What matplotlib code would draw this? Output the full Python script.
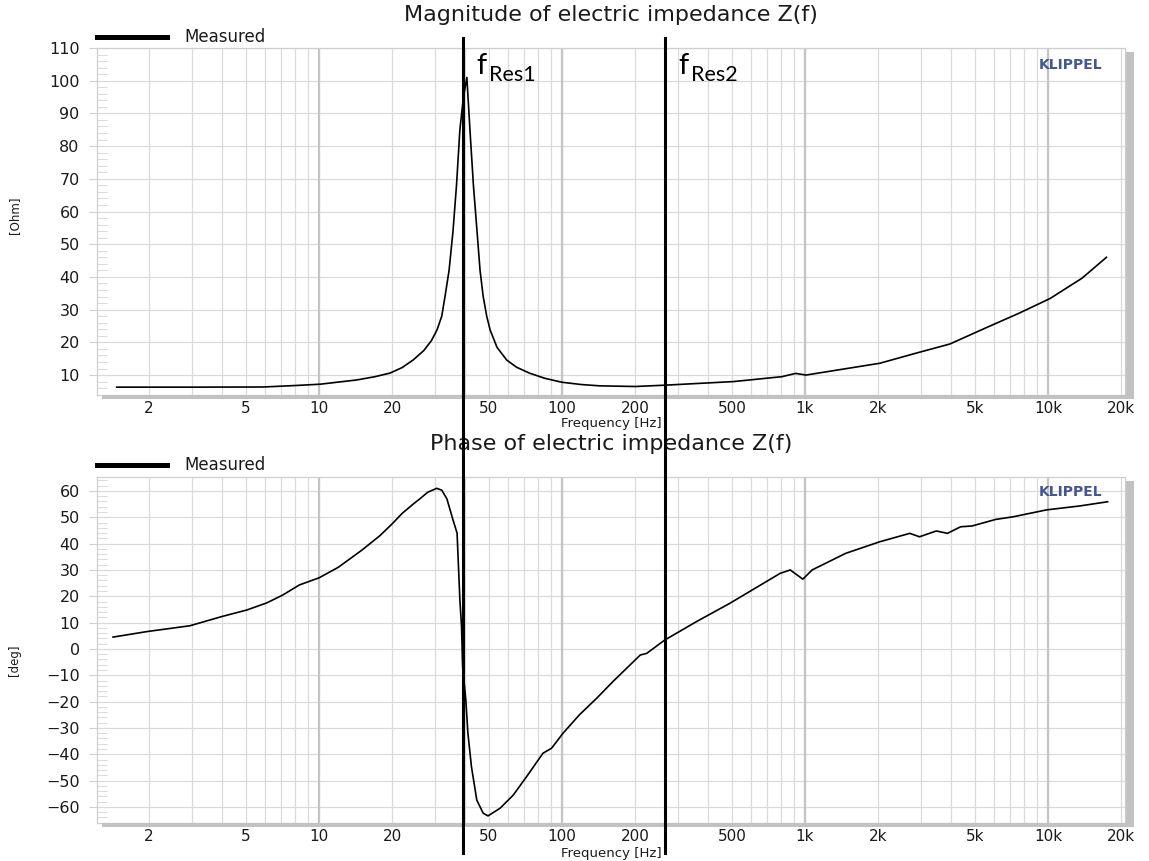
"""Electric impedance of a loudspeaker: magnitude and phase versus frequency.

Two stacked log-frequency panels in the style of a Klippel analyser report,
with the two resonance frequencies marked by vertical lines across both.
"""

import matplotlib.pyplot as plt
import numpy as np
from matplotlib import transforms
from matplotlib.lines import Line2D
from matplotlib.patches import Rectangle
from matplotlib.ticker import (FixedLocator, LogLocator, MultipleLocator,
                               NullFormatter)

# Magnitude |Z(f)| in Ohm
MAG_FREQ = [1.47, 3, 5.9, 8, 10.1, 14.3, 17, 19.6, 22, 24.4, 27, 29, 30.6,
            32, 33, 34.3, 35.6, 36.8, 38, 39.3, 40.6, 41.8, 43.2, 44.7, 46,
            47.4, 49, 50.6, 54, 59.2, 65, 73.4, 85, 100, 120, 143, 200, 265,
            507, 803, 915, 1010, 2030, 2900, 3950, 5500, 7600, 10200, 13800,
            17400]
MAG_OHM = [6.3, 6.3, 6.35, 6.8, 7.2, 8.5, 9.5, 10.6, 12.3, 14.6, 17.5, 20.5,
           23.8, 28, 34, 42, 54, 68, 85, 95, 101, 85, 68, 54, 42, 34, 28,
           23.8, 18.5, 14.6, 12.4, 10.6, 9.0, 7.8, 7.1, 6.7, 6.5, 6.9, 8.0,
           9.5, 10.5, 10.0, 13.6, 16.8, 19.5, 24.3, 28.9, 33.4, 39.6, 46]

# Phase of Z(f) in degrees
PHASE_FREQ = [1.42, 1.96, 2.94, 3.98, 5.05, 6.1, 7.1, 8.3, 10, 12, 15, 17.8,
              20, 22, 24.4, 26, 28, 30.5, 32, 33.6, 35.6, 37, 38, 38.6, 39,
              40.2, 41, 42.4, 44.6, 47.4, 49.6, 55.6, 63, 71.5, 83.5, 90.6,
              101, 118, 139, 162, 210, 223, 265, 358, 490, 790, 870, 980,
              1070, 1470, 2030, 2700, 2960, 3470, 3860, 4370, 4870, 6100,
              7200, 9850, 13500, 17600]
PHASE_DEG = [4.5, 6.6, 8.8, 12.3, 14.8, 17.5, 20.5, 24.3, 27, 31, 37.5, 43,
             47.5, 51.5, 55, 57, 59.5, 61, 60.3, 57, 49, 44, 18.6, 8.5,
             -6.7, -19.4, -32, -44.7, -57.4, -62.4, -63.4, -60.5, -55.5,
             -48.5, -39.6, -37.7, -32, -25, -18.7, -12.4, -2.3, -1.7, 3.4,
             10.4, 17.3, 28.7, 30, 26.5, 30, 36.3, 40.7, 43.9, 42.6, 44.8,
             43.9, 46.4, 46.7, 49.2, 50.2, 52.8, 54.3, 55.9]

RESONANCES = [39.0, 265.0]
RES_LABELS = ["Res1", "Res2"]

FREQ_TICKS = [2, 5, 10, 20, 50, 100, 200, 500, 1000, 2000, 5000, 10000, 20000]
FREQ_LABELS = ["2", "5", "10", "20", "50", "100", "200", "500",
               "1k", "2k", "5k", "10k", "20k"]

W, H = 1149, 861
TEXT = "#1a1a1a"
GRID = "#dadada"


def fy(y):
    """Pixel row (from top) to figure fraction."""
    return 1 - y / H


def box(left, top, right, bottom):
    return [left / W, fy(bottom), (right - left) / W, (bottom - top) / H]


def style_axes(ax, ylim):
    ax.set_xscale("log")
    ax.set_xlim(1.22, 20750)
    ax.set_ylim(*ylim)

    ax.xaxis.set_major_locator(FixedLocator(FREQ_TICKS))
    ax.set_xticklabels(FREQ_LABELS)
    ax.xaxis.set_minor_locator(LogLocator(base=10, subs=np.arange(1, 10), numticks=60))
    ax.xaxis.set_minor_formatter(NullFormatter())
    ax.xaxis.remove_overlapping_locs = False
    ax.grid(which="minor", axis="x", color=GRID, lw=0.9)
    for decade in (10, 100, 1000, 10000):
        ax.axvline(decade, color="#c4c4c4", lw=1.6, zorder=0.6)

    ax.yaxis.set_major_locator(MultipleLocator(10))
    ax.yaxis.set_minor_locator(MultipleLocator(2))
    ax.grid(which="major", axis="y", color=GRID, lw=0.9)
    ax.set_axisbelow(True)

    ax.tick_params(axis="x", which="both", length=0, pad=4,
                   labelsize=11, labelcolor=TEXT)
    ax.tick_params(axis="y", which="major", length=6, color="#cfcfcf",
                   pad=6.5, labelsize=11.5, labelcolor=TEXT)
    ax.tick_params(axis="y", which="minor", direction="in", length=7,
                   color="#d4d4d4")
    for spine in ax.spines.values():
        spine.set_color("#cfcfcf")
        spine.set_linewidth(0.9)


def add_shadow(fig, left, top, right, bottom):
    """Grey drop shadow along the right and bottom edge of a panel."""
    for x0, y0, x1, y1 in ((right + 1, top + 4, right + 9, bottom + 4),
                           (left + 5, bottom, right + 9, bottom + 4)):
        fig.add_artist(Rectangle((x0 / W, fy(y1)), (x1 - x0) / W, (y1 - y0) / H,
                                 transform=fig.transFigure, color="#c2c2c2",
                                 lw=0))


def add_header(fig, title, title_y, legend_y):
    fig.text(611 / W, fy(title_y), title, ha="center", va="center",
             fontsize=16, color=TEXT)
    fig.add_artist(Line2D([97 / W, 167 / W], [fy(legend_y)] * 2,
                          transform=fig.transFigure, color="black", lw=3.6))
    fig.text(184 / W, fy(legend_y), "Measured", ha="left", va="center",
             fontsize=12, color=TEXT)


def main():
    plt.rcParams["font.family"] = "DejaVu Sans"
    fig = plt.figure(figsize=(W / 100, H / 100), dpi=100)

    ax_mag = fig.add_axes(box(97, 48, 1125, 395))
    ax_ph = fig.add_axes(box(97, 477, 1125, 823))

    style_axes(ax_mag, (3.9, 110))
    style_axes(ax_ph, (-66.1, 65.3))

    ax_mag.plot(MAG_FREQ, MAG_OHM, color="black", lw=1.2, zorder=3)
    ax_ph.plot(PHASE_FREQ, PHASE_DEG, color="black", lw=1.2, zorder=3)

    add_shadow(fig, 97, 48, 1125, 395)
    add_shadow(fig, 97, 477, 1125, 823)

    add_header(fig, "Magnitude of electric impedance Z(f)", 15, 37)
    add_header(fig, "Phase of electric impedance Z(f)", 444, 465)

    for ax, y_lab, label in ((ax_mag, 215, "[Ohm]"), (ax_ph, 660, "[deg]")):
        ax.text(0.978, 0.952 if ax is ax_mag else 0.957, "KLIPPEL",
                transform=ax.transAxes, ha="right", va="center",
                fontsize=10, fontweight="bold", color="#44578f")
        fig.text(15 / W, fy(y_lab), label, rotation=90, ha="center",
                 va="center", fontsize=8.5, color=TEXT)

    fig.text(611 / W, fy(424), "Frequency [Hz]", ha="center", va="center",
             fontsize=9.5, color=TEXT)
    fig.text(611 / W, fy(853), "Frequency [Hz]", ha="center", va="center",
             fontsize=9.5, color=TEXT)

    # resonance markers run through both panels
    trans = transforms.blended_transform_factory(ax_mag.transData, fig.transFigure)
    for freq, sub in zip(RESONANCES, RES_LABELS):
        fig.add_artist(Line2D([freq, freq], [fy(38), fy(853)], transform=trans,
                              color="black", lw=2.2, zorder=5))
        fig.text(freq, fy(74), "f", family="Lato", fontsize=21, color="black",
                 ha="left", va="baseline",
                 transform=transforms.offset_copy(trans, fig=fig, x=14, y=0,
                                                  units="dots"))
        fig.text(freq, fy(81), sub, family="Lato", fontsize=15.5,
                 color="black", ha="left", va="baseline",
                 transform=transforms.offset_copy(trans, fig=fig, x=26, y=0,
                                                  units="dots"))

    fig.savefig("out.png", dpi=100)


if __name__ == "__main__":
    main()
